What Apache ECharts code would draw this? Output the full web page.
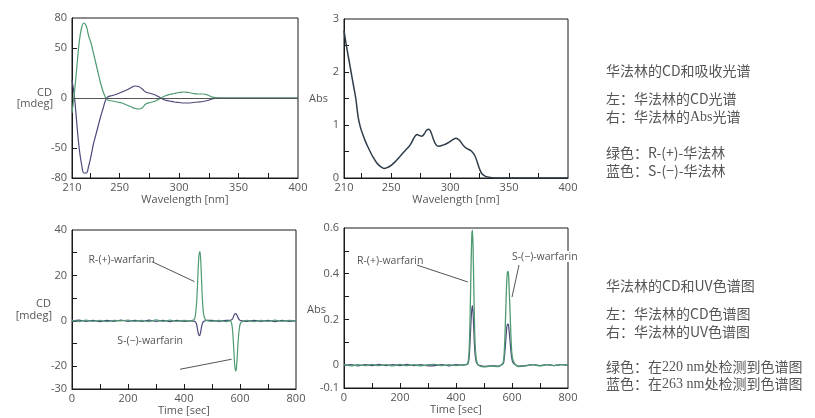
<!DOCTYPE html>
<html><head><meta charset="utf-8">
<script src="https://cdn.jsdelivr.net/npm/echarts@6/dist/echarts.min.js"></script>
<style>html,body{margin:0;padding:0;background:#fff}#c{width:815px;height:418px}</style>
</head><body><div id="c"></div>
<script>
// ---- CD spectrum (top-left) ----
const cdWl    = [210,212,214,216,218,220,222,224,226,228,230,232,234,236,238,240,244,248,252,256,260,263,266,269,272,276,280,284,288,292,296,300,304,308,312,316,320,324,328,332,340,350,360,380,400];
const cdGreen = [-15,5,30,55,70,75,72,62,55,45,35,25,15,7,1,-2,-3,-4,-5,-7,-9,-10.5,-11,-10,-6,-4.5,-3,-0.5,2,3.5,4.5,5.5,6,5.5,4.5,4,4,3,0.8,0.2,0,0,0,0,0];
const cdBlue  = [18,2,-25,-50,-66,-75,-75,-68,-58,-46,-37,-28,-19,-11,-3,1,2.5,4,6,8,10.5,12,11.5,9,6,4.5,3,0.5,-2,-3,-4,-4.5,-5,-5,-4.5,-4,-3.5,-2.5,-0.8,-0.2,0,0,0,0,0];
// ---- Abs spectrum (top-right) ----
const absWl  = [210,212,214,216,218,220,222,224,226,228,230,234,238,242,244,246,250,254,258,262,266,270,272,274,276,278,280,282,284,286,288,290,294,298,302,305,308,311,314,318,321,323,325,327,330,334,340,360,400];
const absVal = [2.78,2.5,2.25,2.0,1.75,1.5,1.15,0.95,0.82,0.7,0.6,0.42,0.28,0.2,0.18,0.19,0.24,0.32,0.42,0.52,0.62,0.78,0.82,0.8,0.79,0.83,0.9,0.92,0.85,0.72,0.63,0.6,0.62,0.66,0.72,0.75,0.71,0.62,0.56,0.51,0.42,0.3,0.17,0.08,0.03,0.01,0,0,0];
// ---- CD chromatogram (bottom-left) ----
const cdTime   = [0,25,50,75,100,125,150,175,200,225,250,275,300,325,350,375,400,420,435,440,445,448,451,454,457,460,463,466,470,475,480,500,525,550,565,570,574,578,581,584,587,590,594,598,602,610,625,650,675,700,725,750,775,800];
const cdChromG = [0.2,-0.3,0.3,-0.2,0.2,-0.3,0.2,0,0.3,-0.2,0.2,-0.3,0.4,-0.2,0.3,-0.2,0.2,0,0.5,2,8,15,24,29.5,30.5,26,17,9,3,0.8,0.2,-0.2,0.2,-0.3,0,-1,-5,-13,-19,-22,-21,-16,-8,-3,-1,-0.2,0.2,-0.3,0.2,-0.2,0.3,-0.2,0.2,0];
const cdChromB = [-0.2,0.3,-0.2,0.2,-0.3,0.2,-0.2,0.3,-0.2,0.2,-0.2,0.3,-0.2,0.2,-0.3,0.2,-0.2,0,-0.1,-0.3,-1.5,-3.5,-5.5,-6.5,-6.2,-4.5,-2.5,-1,-0.3,0,0.2,0.2,-0.2,0.2,0.2,0.5,1,2.3,3,3.2,3,2.3,1.2,0.4,0.1,0,-0.2,0.2,-0.2,0.2,-0.3,0.2,-0.2,0];
// ---- UV chromatogram (bottom-right) ----
const uvTime   = [0,25,50,75,100,125,150,175,200,225,250,275,300,325,350,375,400,420,440,445,448,451,454,457,459,462,465,468,472,476,480,500,525,550,565,570,574,578,581,584,587,590,594,598,602,610,625,650,675,700,725,750,775,800];
const uvGreen  = [0.002,-0.003,0.002,-0.002,0.003,-0.002,0.002,-0.003,0.003,-0.002,0.002,-0.003,0.002,0.003,-0.002,0.002,-0.002,0,0.005,0.03,0.1,0.25,0.45,0.58,0.59,0.45,0.25,0.1,0.03,0.01,0,-0.008,-0.004,-0.006,0.005,0.02,0.1,0.25,0.36,0.41,0.405,0.33,0.2,0.08,0.03,0.005,-0.006,-0.003,0.002,-0.003,0.002,-0.002,0.002,0];
const uvBlue   = [-0.002,0.002,-0.003,0.002,-0.002,0.003,-0.002,0.002,-0.002,0.003,-0.002,0.002,-0.003,-0.002,0.002,-0.003,0.002,0,0.003,0.015,0.05,0.12,0.2,0.25,0.26,0.2,0.11,0.05,0.015,0.005,0,-0.005,-0.003,-0.004,0.003,0.01,0.05,0.11,0.16,0.18,0.178,0.145,0.09,0.04,0.015,0.003,-0.004,-0.002,0.002,-0.002,0.002,-0.002,0.002,0];

// ---- tick labels / tick positions ----
const cdSpecYLabels = [-80,-50,0,50,80];
const cdSpecYTicks  = [-50,0,50];
const wlLabels      = [210,250,300,350,400];
const wlTicks       = [225,250,275,300,325,350,375];
const absYLabels    = [0,1,2,3];
const absYTicks     = [0.5,1,1.5,2,2.5];
const cdChromYLabels= [-30,-20,0,20,40];
const cdChromYTicks = [-20,-10,0,10,20,30];
const timeLabels    = [0,200,400,600,800];
const timeTicks     = [100,200,300,400,500,600,700];
const uvYLabels     = [-0.1,0,0.2,0.4,0.6];
const uvYTicks      = [0.1,0.2,0.3,0.4,0.5];

const GREEN = '#4e9a72', BLUE = '#4b4a7a', TXT = '#555', AX = '#1a1a1a';
const FONT = '"Open Sans", "Noto Sans", sans-serif';
const CJK = '"Noto Sans CJK SC", "Noto Sans", sans-serif';

function zip(a,b){return a.map((v,i)=>[v,b[i]]);}

function xAx(grid,min,max,labels,ticks,name){
  return {type:'value',gridIndex:grid,min:min,max:max,
    name:name,nameLocation:'middle',nameGap:16,
    nameTextStyle:{color:TXT,fontSize:11,fontFamily:FONT},
    axisLine:{show:true,onZero:false,lineStyle:{color:AX,width:1}},
    axisTick:{show:true,inside:true,length:5,customValues:ticks,lineStyle:{color:AX}},
    axisLabel:{show:true,customValues:labels,color:TXT,fontSize:11,fontFamily:FONT,margin:4},
    splitLine:{show:false}};
}
function yAx(grid,min,max,labels,ticks){
  return {type:'value',gridIndex:grid,min:min,max:max,
    axisLine:{show:true,onZero:false,lineStyle:{color:AX,width:1}},
    axisTick:{show:true,inside:true,length:5,customValues:ticks,lineStyle:{color:AX}},
    axisLabel:{show:true,customValues:labels,color:TXT,fontSize:11,fontFamily:FONT,margin:5},
    splitLine:{show:false}};
}
function line(xi,yi,data,color,w,smooth,extra){
  return Object.assign({type:'line',xAxisIndex:xi,yAxisIndex:yi,data:data,showSymbol:false,symbol:'none',
    smooth:smooth,lineStyle:{color:color,width:w},itemStyle:{color:color},silent:true,animation:false},extra||{});
}

const chart = echarts.init(document.getElementById('c'),null,{renderer:'canvas'});
const gridBox = {show:true,borderColor:AX,borderWidth:1,backgroundColor:'transparent',containLabel:false};

chart.setOption({
  animation:false,
  backgroundColor:'#fff',
  grid:[
    Object.assign({left:72,top:18,width:226,height:160},gridBox),
    Object.assign({left:344,top:19,width:224,height:159},gridBox),
    Object.assign({left:72,top:230,width:224,height:159},gridBox),
    Object.assign({left:344,top:228,width:224,height:160},gridBox)
  ],
  xAxis:[
    xAx(0,210,400,wlLabels,wlTicks,'Wavelength [nm]'),
    xAx(1,210,400,wlLabels,wlTicks,'Wavelength [nm]'),
    xAx(2,0,800,timeLabels,timeTicks,'Time [sec]'),
    xAx(3,0,800,timeLabels,timeTicks,'Time [sec]')
  ],
  yAxis:[
    yAx(0,-80,80,cdSpecYLabels,cdSpecYTicks),
    yAx(1,0,3,absYLabels,absYTicks),
    yAx(2,-30,40,cdChromYLabels,cdChromYTicks),
    yAx(3,-0.1,0.6,uvYLabels,uvYTicks)
  ],
  series:[
    line(0,0,zip(cdWl,cdBlue),BLUE,1.2,0.4,{markLine:{silent:true,symbol:'none',label:{show:false},
      lineStyle:{color:'#555',width:1,type:'solid'},data:[{yAxis:0}]}}),
    line(0,0,zip(cdWl,cdGreen),GREEN,1.2,0.4),
    line(1,1,zip(absWl,absVal),'#2f3d4a',1.5,0.4),
    line(2,2,zip(cdTime,cdChromB),BLUE,1.2,0.3),
    line(2,2,zip(cdTime,cdChromG),GREEN,1.2,0.3),
    line(3,3,zip(uvTime,uvBlue),BLUE,1.2,0.3),
    line(3,3,zip(uvTime,uvGreen),GREEN,1.3,0.3)
  ]
});

// ---- annotations in data coordinates ----
const annoText = [
  {grid:2, at:[178,26.9], text:'R-(+)-warfarin'},
  {grid:2, at:[279,-8.7], text:'S-(\u2212)-warfarin'},
  {grid:3, at:[165,0.456], text:'R-(+)-warfarin'},
  {grid:3, at:[717,0.475], text:'S-(\u2212)-warfarin'}
];
const annoLines = [
  {grid:2, from:[285,26.1], to:[437,17.3]},
  {grid:2, from:[386,-21.3], to:[570,-16.9]},
  {grid:3, from:[260,0.438], to:[442,0.364]},
  {grid:3, from:[625,0.438], to:[600,0.298]}
];

const graphics = [];
annoText.forEach(a=>{
  const p = chart.convertToPixel({gridIndex:a.grid}, a.at);
  graphics.push({type:'text',x:p[0],y:p[1],silent:true,
    style:{text:a.text,fill:TXT,font:'10.5px '+FONT,textAlign:'center',textVerticalAlign:'middle',
      backgroundColor:'#fff'}});
});
annoLines.forEach(l=>{
  const p1 = chart.convertToPixel({gridIndex:l.grid}, l.from);
  const p2 = chart.convertToPixel({gridIndex:l.grid}, l.to);
  graphics.push({type:'line',silent:true,shape:{x1:p1[0],y1:p1[1],x2:p2[0],y2:p2[1]},
    style:{stroke:'#555',lineWidth:1}});
});

// axis titles
function lbl(x,y,text,align){
  graphics.push({type:'text',x:x,y:y,silent:true,
    style:{text:text,fill:TXT,font:'11px '+FONT,textAlign:align||'right',textVerticalAlign:'middle'}});
}
lbl(52,93,'CD'); lbl(53,104,'[mdeg]');
lbl(328,99,'Abs');
lbl(51,304,'CD'); lbl(52,316,'[mdeg]');
lbl(326,310,'Abs');

// right-side captions
const captionTop = [
  '华法林的CD和吸收光谱',
  '',
  '左：华法林的CD光谱',
  '右：华法林的{s|Abs}光谱',
  '',
  '绿色：R-(+)-华法林',
  '蓝色：S-(\u2212)-华法林'
];
const captionBottom = [
  '华法林的CD和UV色谱图',
  '',
  '左：华法林的CD色谱图',
  '右：华法林的UV色谱图',
  '',
  '绿色：在{s|220 nm}处检测到色谱图',
  '蓝色：在{s|263 nm}处检测到色谱图'
];
function caption(lines, ys){
  let k=0;
  lines.forEach(t=>{
    if(t===''){return;}
    graphics.push({type:'text',x:606,y:ys[k++],silent:true,
      style:{text:t,fill:TXT,fontSize:14,fontFamily:CJK,textAlign:'left',textVerticalAlign:'middle',
        rich:{s:{fontFamily:'"Liberation Serif", serif',fontSize:14,fill:TXT,textVerticalAlign:'middle'}}}});
  });
}
caption(captionTop,[71,99,117,153,171]);
caption(captionBottom,[286,314,332,367,384]);

chart.setOption({graphic:graphics});
</script>
</body></html>
